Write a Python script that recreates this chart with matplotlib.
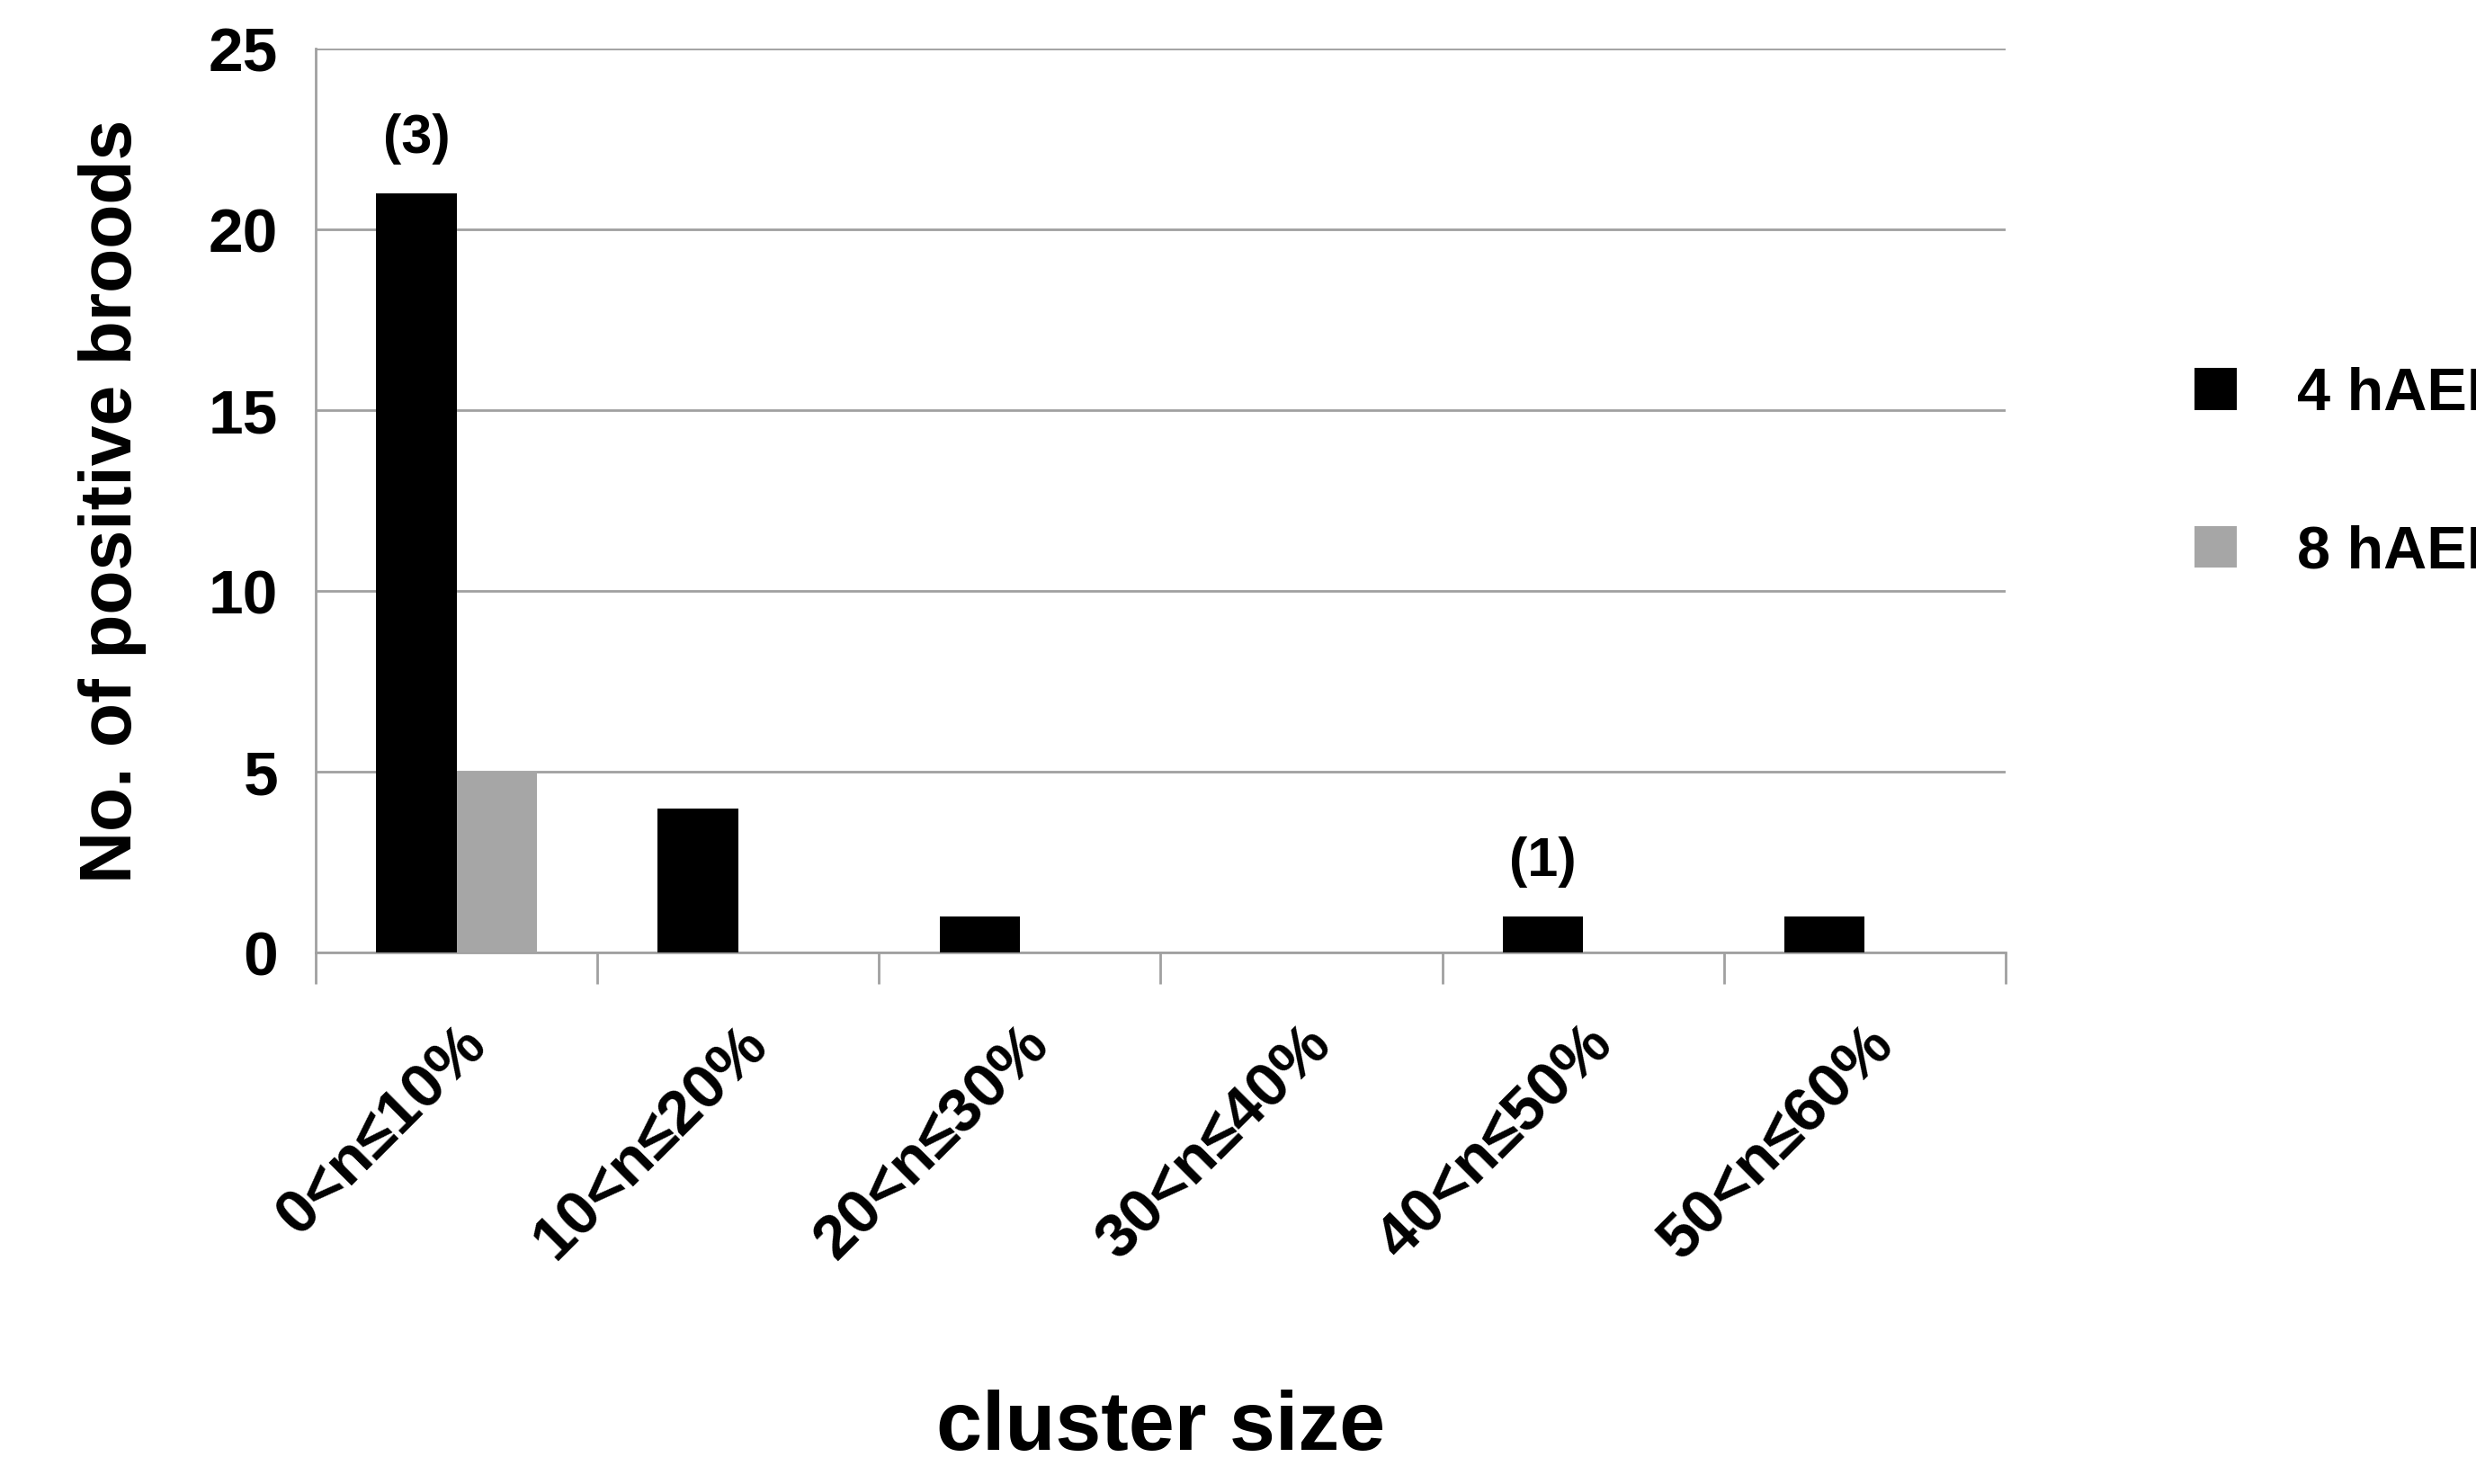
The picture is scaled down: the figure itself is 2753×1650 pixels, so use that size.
import matplotlib
matplotlib.use("Agg")
import matplotlib.pyplot as plt
import numpy as np

categories = ["0<n≤10%", "10<n≤20%", "20<n≤30%", "30<n≤40%", "40<n≤50%", "50<n≤60%"]
h4 = [21, 4, 1, 0, 1, 1]
h8 = [5, 0, 0, 0, 0, 0]
annotations = {0: "(3)", 4: "(1)"}

plt.rcParams['font.family'] = ['Liberation Sans', 'DejaVu Sans']
plt.rcParams['font.weight'] = 'bold'
fig = plt.figure(figsize=(27.53, 16.5), dpi=100)
ax = fig.add_axes([0.1275, 0.358, 0.6825, 0.609])
x = np.arange(len(categories))
w = 0.285
ax.bar(x - w/2, h4, w, color='black', label='4 hAEL', zorder=3)
ax.bar(x + w/2, h8, w, color='#a6a6a6', label='8 hAEL', zorder=3)
for i, t in annotations.items():
    ax.text(i - w/2, h4[i] + 0.8, t, ha='center', va='bottom', fontsize=44, fontweight='bold')
ax.set_xlim(-0.5, len(categories) - 0.5)
ax.set_ylim(0, 25)
ax.set_yticks([0, 5, 10, 15, 20, 25])
ax.yaxis.grid(True, color='#a0a0a0', linewidth=2, zorder=0)
for s in ['top', 'right']:
    ax.spines[s].set_visible(False)
ax.spines['left'].set_color('#a0a0a0')
ax.spines['bottom'].set_color('#a0a0a0')
ax.spines['left'].set_linewidth(2)
ax.spines['bottom'].set_linewidth(2)
ax.set_xticks(x)
ax.set_xticklabels(categories, rotation=45, ha='right', rotation_mode='anchor', fontsize=50, fontweight='bold')
ax.set_xticks(np.arange(-0.5, len(categories)), minor=True)
ax.tick_params(axis='x', which='major', length=0, pad=50)
ax.tick_params(axis='x', which='minor', length=25, width=2, color='#a0a0a0')
ax.tick_params(axis='y', length=0, labelsize=50, pad=30)
for lab in ax.get_yticklabels():
    lab.set_fontweight('bold')
ax.set_ylabel('No. of positive broods', fontsize=58, fontweight='bold', labelpad=50)
ax.set_xlabel('cluster size', fontsize=66, fontweight='bold', labelpad=95)
ax.legend(loc='center left', bbox_to_anchor=(1.08, 0.53), frameon=False, fontsize=48,
          handlelength=0.7, handleheight=0.7, labelspacing=1.7, handletextpad=1.0)
fig.savefig('out.png', dpi=100)
